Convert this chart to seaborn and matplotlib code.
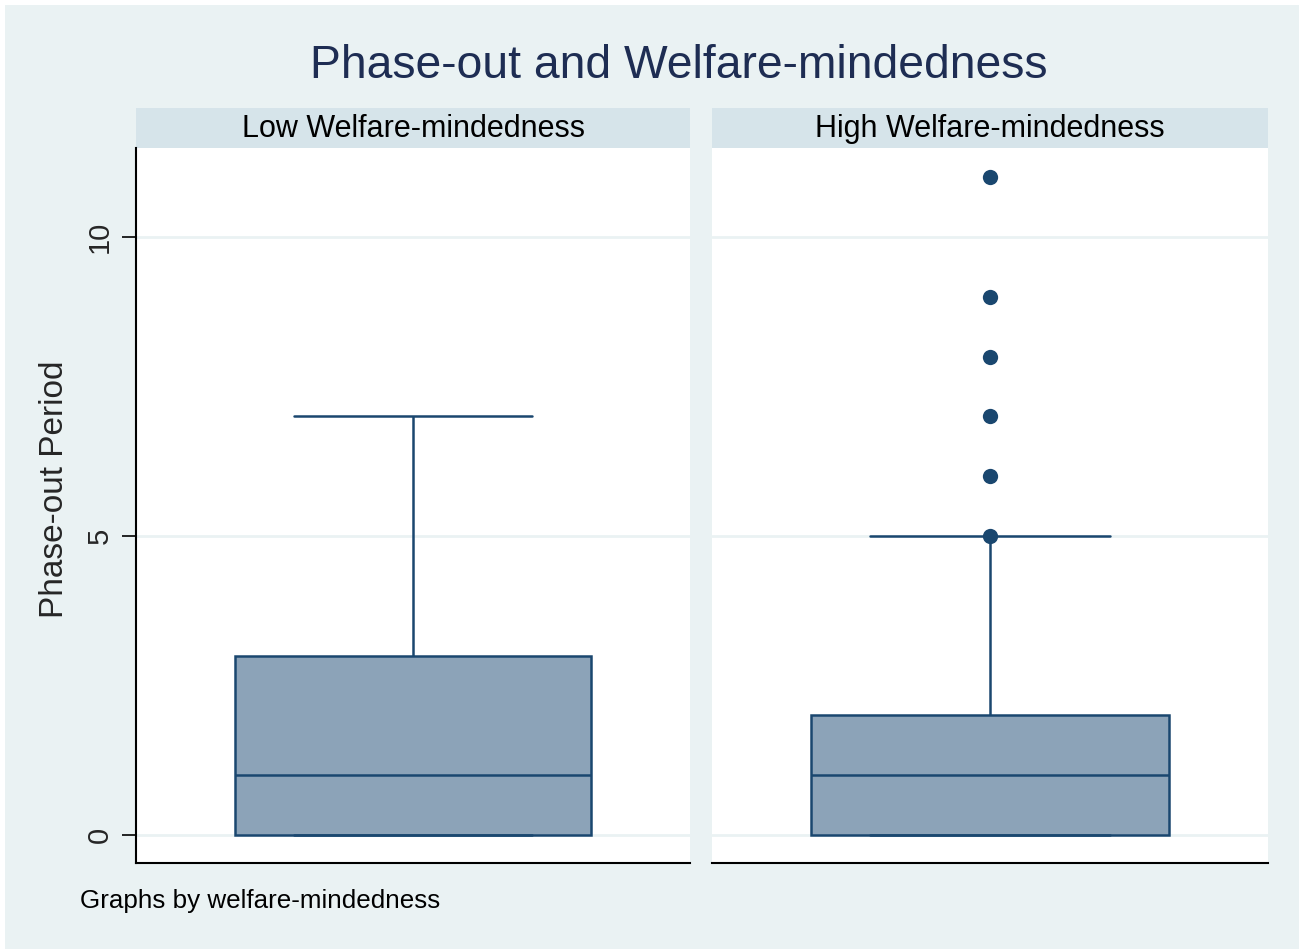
import numpy as np
import pandas as pd
import matplotlib
matplotlib.use("Agg")
import matplotlib.pyplot as plt
from matplotlib.patches import Rectangle
import seaborn as sns

# Five-number summaries (min whisker, Q1, median, Q3, max whisker) per group
groups = ["Low Welfare-mindedness", "High Welfare-mindedness"]
low_summary = [0, 0, 1, 3, 7]
high_summary = [0, 0, 1, 2, 5]
# Points plotted individually beyond the box
low_outliers = []
high_outliers = [5, 6, 7, 8, 9, 11]
yticks = [0, 5, 10]

title = "Phase-out and Welfare-mindedness"
ylabel = "Phase-out Period"
note = "Graphs by welfare-mindedness"

BG = "#EAF2F3"
STRIP = "#D6E4EA"
NAVY = "#1A476F"
FILL = "#8CA3B8"
TITLE_C = "#1E2D53"

sns.set_theme(style="white")
plt.rcParams["font.family"] = ["Liberation Sans", "DejaVu Sans"]

fig = plt.figure(figsize=(12.99, 9.49), dpi=100)
fig.patch.set_facecolor("white")
fig.patches.append(Rectangle((5 / 1299, 0), 1 - 5 / 1299, 1 - 5 / 949,
                             transform=fig.transFigure, facecolor=BG,
                             edgecolor="none", zorder=-10))

H = 949.0
W = 1299.0
bottom = 1 - 863 / H
height = (863 - 148) / H
axes = [
    fig.add_axes([136 / W, bottom, 554 / W, height]),
    fig.add_axes([712 / W, bottom, 556 / W, height]),
]

summaries = [low_summary, high_summary]
outliers = [low_outliers, high_outliers]
strip_h = 40 / (863 - 148)

for i, ax in enumerate(axes):
    df = pd.DataFrame({"g": 0, "v": summaries[i]})
    ax.set_facecolor("white")
    for t in yticks:
        ax.axhline(t, color=BG, lw=2, zorder=0)
    sns.boxplot(data=df, x="g", y="v", ax=ax, whis=np.inf, width=0.643,
                color=FILL, saturation=1, linewidth=1.8, linecolor=NAVY,
                fill=True, showcaps=True, zorder=2)
    if outliers[i]:
        odf = pd.DataFrame({"g": 0, "v": outliers[i]})
        sns.stripplot(data=odf, x="g", y="v", ax=ax, jitter=False,
                      color=NAVY, size=11, zorder=5)
    ax.set_xlim(-0.5, 0.5)
    ax.set_ylim(-0.47, 11.49)
    ax.set_xlabel("")
    ax.set_xticks([])
    for s in ["top", "right"]:
        ax.spines[s].set_visible(False)
    ax.spines["bottom"].set_color("black")
    ax.spines["bottom"].set_linewidth(1.5)
    ax.add_patch(Rectangle((0, 1.0), 1, strip_h, transform=ax.transAxes,
                           facecolor=STRIP, edgecolor="none", clip_on=False))
    ax.text(0.5, 1.0 + strip_h / 2 - 0.002, groups[i], transform=ax.transAxes,
            ha="center", va="center", fontsize=22, color="black")
    if i == 0:
        ax.spines["left"].set_color("black")
        ax.spines["left"].set_linewidth(1.5)
        ax.set_yticks(yticks)
        ax.set_yticklabels([str(t) for t in yticks], rotation=90, va="center",
                           fontsize=21)
        ax.tick_params(axis="y", direction="out", length=10, width=1.2,
                       color="black", pad=6, left=True)
        ax.set_ylabel(ylabel, fontsize=24)
        ax.yaxis.label.set_va("center")
        ax.yaxis.set_label_coords((55 - 136) / 554, (863 - 489) / 715)
    else:
        ax.spines["left"].set_visible(False)
        ax.set_yticks(yticks)
        ax.set_yticklabels([])
        ax.tick_params(axis="y", length=0)
        ax.set_ylabel("")

# make whisker caps span a fixed fraction of the box width
for ax in axes:
    for line in ax.lines:
        xd = np.asarray(line.get_xdata(), dtype=float)
        yd = np.asarray(line.get_ydata(), dtype=float)
        if len(xd) == 2 and yd[0] == yd[1] and xd[0] != xd[1]:
            w = xd[1] - xd[0]
            if w < 0.5:
                c = (xd[0] + xd[1]) / 2
                line.set_xdata([c - 0.2155, c + 0.2155])

fig.text(0.5 * (311 + 1046) / W, 1 - 66 / H, title, ha="center", va="center",
         fontsize=33.3, color=TITLE_C)
fig.text(80 / W, 1 - 901 / H, note, ha="left", va="center", fontsize=18.7,
         color="black")

fig.savefig("out.png", dpi=100, facecolor=fig.get_facecolor())
